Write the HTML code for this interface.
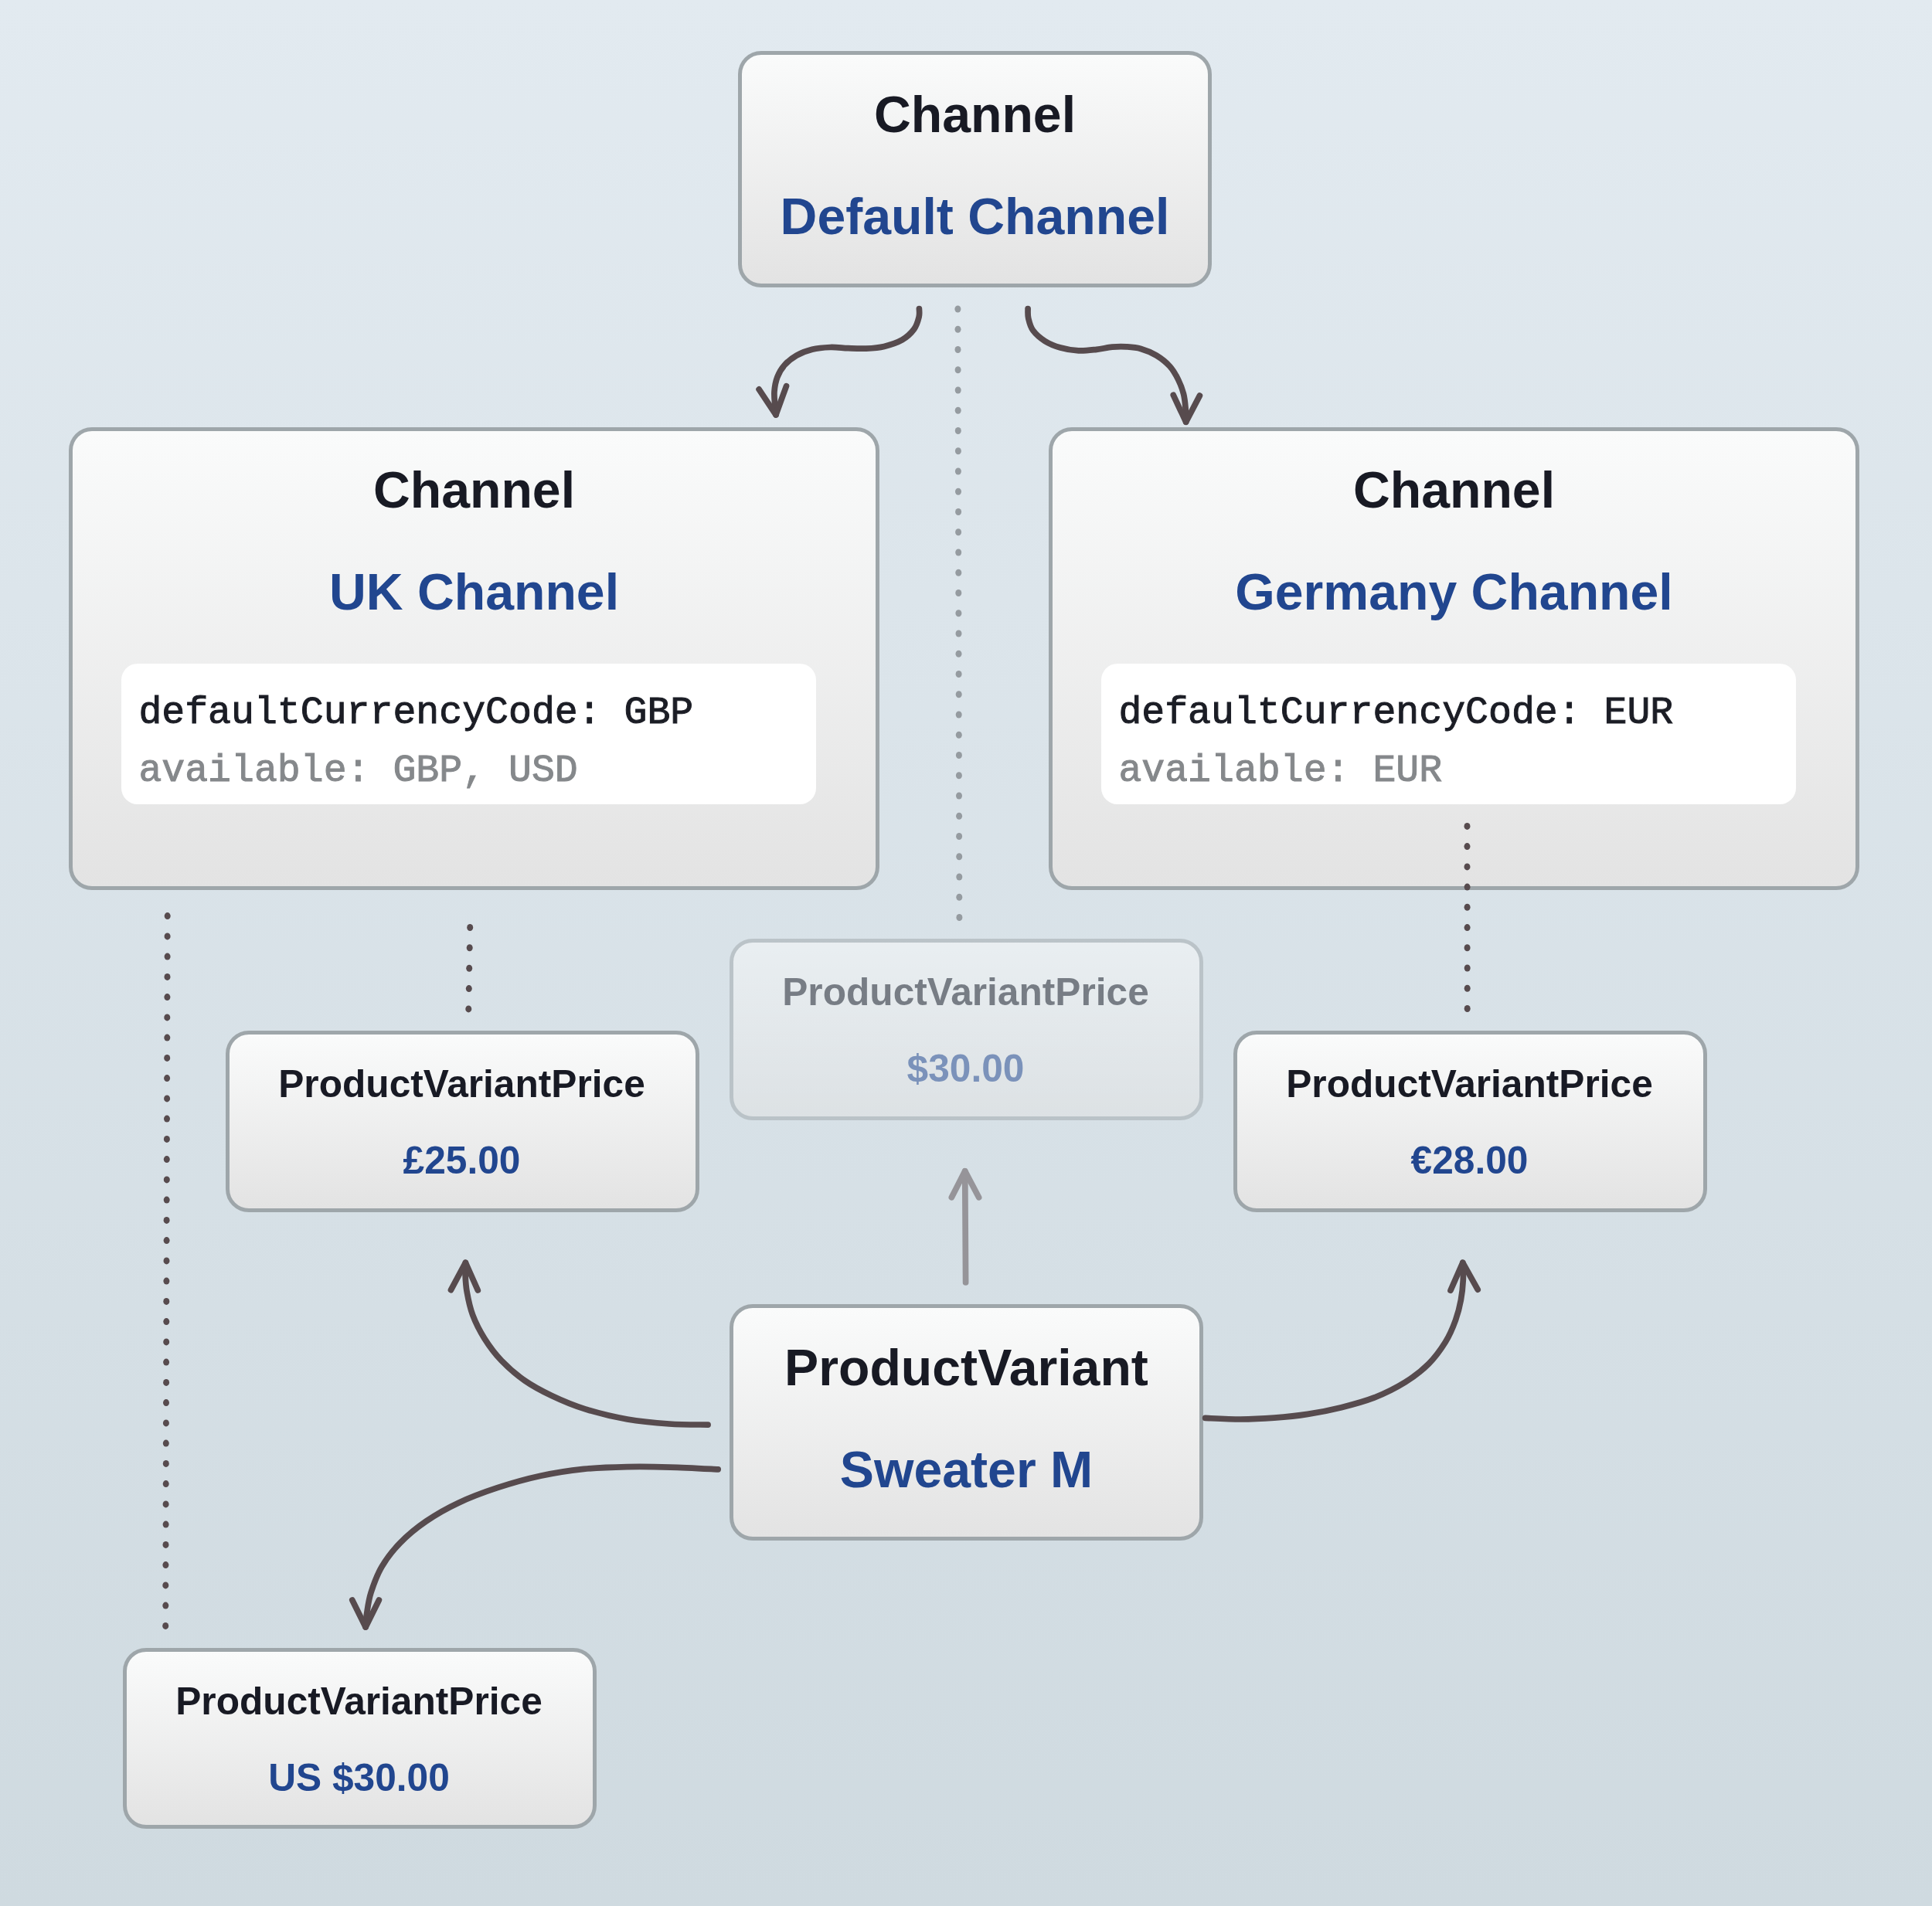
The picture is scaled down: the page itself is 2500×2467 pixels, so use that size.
<!DOCTYPE html>
<html lang="en">
<head>
<meta charset="utf-8">
<title>Channels, currencies and prices</title>
<style>

html,body{margin:0;padding:0;}
body{width:2500px;height:2467px;overflow:hidden;position:relative;
  background:linear-gradient(to bottom,#e2eaf0 0%,#cfdae0 100%);
  font-family:"Liberation Sans",sans-serif;}
.box{position:absolute;box-sizing:border-box;border:5px solid #9ea6aa;border-radius:30px;
  background:linear-gradient(to bottom,#fafbfb 0%,#e3e3e3 100%);}
.faded{opacity:.5;}
.t,.s{position:absolute;left:0;right:0;text-align:center;font-weight:bold;white-space:nowrap;line-height:1;}
.t{color:#181a24;}
.s{color:#21468f;}
.big .t,.big .s{font-size:66.2px;}
.small .t,.small .s{font-size:49.65px;left:-2px;}
.big .t{top:43.86px;}
.big .s{top:176.36px;}
.tall .t{top:42.86px;}
.tall .s{top:175.36px;}
.small .t{top:39.67px;}
.small .s{top:139.17px;}
.code{position:absolute;left:63px;top:300.5px;width:899px;height:182.5px;background:#fff;border-radius:21px;
  font-family:"Liberation Mono",monospace;font-size:49.85px;font-weight:normal;white-space:pre;-webkit-text-stroke:1px currentColor;}
.code div{position:absolute;left:22.40px;line-height:1;}
.code .l1{color:#1b1d25;top:39.68px;}
.code .l2{color:#85888b;top:114.68px;}
svg{position:absolute;left:0;top:0;}

</style>
</head>
<body>
<div class="box big" id="b-default" style="left:955px;top:66px;width:613px;height:306px">
  <div class="t">Channel</div>
  <div class="s">Default Channel</div>
</div>
<div class="box big tall" id="b-uk" style="left:89px;top:553px;width:1049px;height:599px">
  <div class="t">Channel</div>
  <div class="s">UK Channel</div>
  <div class="code"><div class="l1">defaultCurrencyCode: GBP</div><div class="l2">available: GBP, USD</div></div>
</div>
<div class="box big tall" id="b-de" style="left:1357px;top:553px;width:1049px;height:599px">
  <div class="t">Channel</div>
  <div class="s">Germany Channel</div>
  <div class="code"><div class="l1">defaultCurrencyCode: EUR</div><div class="l2">available: EUR</div></div>
</div>
<div class="box small" id="b-gbp" style="left:292px;top:1334px;width:613px;height:235px">
  <div class="t">ProductVariantPrice</div>
  <div class="s">£25.00</div>
</div>
<div class="box small faded" id="b-usd0" style="left:944px;top:1215px;width:613px;height:235px">
  <div class="t">ProductVariantPrice</div>
  <div class="s">$30.00</div>
</div>
<div class="box small" id="b-eur" style="left:1596px;top:1334px;width:613px;height:235px">
  <div class="t">ProductVariantPrice</div>
  <div class="s">€28.00</div>
</div>
<div class="box big" id="b-pv" style="left:944px;top:1688px;width:613px;height:306px">
  <div class="t">ProductVariant</div>
  <div class="s">Sweater M</div>
</div>
<div class="box small" id="b-usd" style="left:159px;top:2133px;width:613px;height:234px">
  <div class="t">ProductVariantPrice</div>
  <div class="s">US $30.00</div>
</div>
<svg width="2500" height="2467" viewBox="0 0 2500 2467">
<g fill="none" stroke="#574b4e" stroke-width="7.7" stroke-linecap="round" stroke-linejoin="round">
<path d="M1189.4,399.5 C1189.4,401.3 1190.2,406.0 1189.1,410.4 C1188.0,414.8 1186.5,421.0 1182.9,425.9 C1179.3,430.8 1173.9,436.1 1167.4,439.9 C1160.9,443.6 1151.9,446.5 1144.1,448.4 C1136.3,450.3 1128.6,450.7 1120.8,451.1 C1113.0,451.5 1105.3,451.0 1097.5,450.7 C1089.7,450.4 1082.0,449.2 1074.2,449.5 C1066.4,449.8 1058.2,450.5 1050.9,452.3 C1043.7,454.1 1036.7,456.7 1030.7,460.1 C1024.8,463.5 1019.3,467.9 1015.2,472.5 C1011.1,477.1 1008.1,482.3 1005.9,488.0 C1003.7,493.7 1002.5,500.4 1002.0,506.6 C1001.5,512.8 1002.5,520.2 1002.8,525.3 C1003.1,530.3 1003.8,535.0 1004.0,536.9"/>
<path d="M982.1,503.9 L1004.0,536.9 L1017.5,499.7"/>
<path d="M1330.1,399.5 C1330.2,401.6 1329.6,407.2 1330.7,411.9 C1331.8,416.6 1333.0,422.6 1336.6,427.5 C1340.2,432.4 1346.1,437.6 1352.1,441.4 C1358.0,445.1 1365.0,447.9 1372.3,450.0 C1379.5,452.1 1387.8,453.5 1395.6,453.9 C1403.4,454.3 1411.7,453.1 1418.9,452.3 C1426.2,451.5 1432.6,449.8 1439.1,449.2 C1445.6,448.6 1451.5,448.5 1457.7,448.9 C1463.9,449.3 1469.8,449.6 1476.3,451.5 C1482.8,453.4 1490.3,456.4 1496.5,460.1 C1502.7,463.9 1508.9,468.8 1513.6,474.0 C1518.3,479.2 1521.5,485.1 1524.5,491.1 C1527.5,497.1 1529.9,503.6 1531.5,509.8 C1533.1,516.0 1533.6,522.3 1534.1,528.4 C1534.6,534.5 1534.5,543.2 1534.6,546.2"/>
<path d="M1518.3,511.3 L1534.6,546.2 L1552.4,512.1"/>
<path d="M916.1,1844.1 C907.8,1843.9 883.5,1844.2 866.1,1843.0 C848.7,1841.8 829.8,1840.2 811.7,1837.0 C793.6,1833.8 773.7,1829.0 757.4,1823.9 C741.1,1818.8 726.9,1812.7 713.9,1806.5 C700.9,1800.3 690.0,1794.6 679.1,1787.0 C668.2,1779.4 657.4,1770.0 648.7,1760.9 C640.0,1751.8 633.2,1742.4 627.0,1732.6 C620.8,1722.8 615.5,1712.3 611.7,1702.2 C607.9,1692.1 605.7,1680.8 604.1,1671.7 C602.5,1662.6 602.3,1654.0 602.0,1647.8 C601.7,1641.6 602.3,1636.5 602.4,1634.3"/>
<path d="M583.5,1669.6 L602.4,1634.3 L618.3,1670.0"/>
<path d="M929.2,1901.9 C918.9,1901.4 886.9,1899.6 867.2,1899.1 C847.6,1898.5 829.9,1898.2 811.3,1898.6 C792.7,1899.0 774.0,1899.5 755.4,1901.4 C736.8,1903.4 718.1,1906.2 699.5,1910.3 C680.9,1914.3 661.3,1919.9 643.6,1925.7 C625.9,1931.5 608.7,1938.0 593.3,1945.2 C577.9,1952.4 564.0,1960.4 551.4,1969.0 C538.8,1977.6 527.3,1987.2 517.8,1997.0 C508.2,2006.8 500.4,2017.0 494.1,2027.7 C487.8,2038.4 483.4,2050.9 480.1,2061.2 C476.8,2071.4 475.7,2081.7 474.5,2089.2 C473.3,2096.7 473.3,2103.2 473.1,2106.0"/>
<path d="M455.8,2071.0 L473.1,2106.0 L490.4,2071.0"/>
<path d="M1559.6,1835.4 C1567.2,1835.7 1590.3,1837.0 1605.2,1837.0 C1620.1,1837.0 1634.2,1836.3 1648.7,1835.2 C1663.2,1834.1 1677.7,1832.7 1692.2,1830.4 C1706.7,1828.2 1721.2,1825.3 1735.7,1821.7 C1750.2,1818.1 1765.3,1814.1 1779.1,1808.7 C1792.9,1803.3 1806.7,1796.3 1818.3,1789.1 C1829.9,1781.8 1840.0,1773.9 1848.7,1765.2 C1857.4,1756.5 1864.6,1746.4 1870.4,1737.0 C1876.2,1727.6 1880.2,1717.8 1883.5,1708.7 C1886.8,1699.6 1888.8,1691.3 1890.4,1682.6 C1892.0,1673.9 1892.9,1664.5 1893.3,1656.5 C1893.7,1648.5 1892.9,1638.0 1892.8,1634.3"/>
<path d="M1877.0,1670.2 L1892.8,1634.3 L1912.2,1669.1"/>
</g>
<g fill="none" stroke="#574b4e" stroke-width="7.7" stroke-linecap="round" stroke-linejoin="round" opacity="0.5">
<path d="M1249.6,1660.0 L1248.7,1515.8"/>
<path d="M1231.4,1549.8 L1248.7,1515.8 L1266.6,1549.8"/>
</g>
<g fill="#574b4e">
<ellipse cx="216.7" cy="1185.6" rx="4" ry="4.5"/>
<ellipse cx="216.6" cy="1211.9" rx="4" ry="4.5"/>
<ellipse cx="216.6" cy="1238.1" rx="4" ry="4.5"/>
<ellipse cx="216.5" cy="1264.4" rx="4" ry="4.5"/>
<ellipse cx="216.4" cy="1290.6" rx="4" ry="4.5"/>
<ellipse cx="216.3" cy="1316.9" rx="4" ry="4.5"/>
<ellipse cx="216.3" cy="1343.1" rx="4" ry="4.5"/>
<ellipse cx="216.2" cy="1369.4" rx="4" ry="4.5"/>
<ellipse cx="216.1" cy="1395.6" rx="4" ry="4.5"/>
<ellipse cx="216.1" cy="1421.9" rx="4" ry="4.5"/>
<ellipse cx="216.0" cy="1448.1" rx="4" ry="4.5"/>
<ellipse cx="215.9" cy="1474.4" rx="4" ry="4.5"/>
<ellipse cx="215.8" cy="1500.6" rx="4" ry="4.5"/>
<ellipse cx="215.8" cy="1526.9" rx="4" ry="4.5"/>
<ellipse cx="215.7" cy="1553.1" rx="4" ry="4.5"/>
<ellipse cx="215.6" cy="1579.4" rx="4" ry="4.5"/>
<ellipse cx="215.6" cy="1605.6" rx="4" ry="4.5"/>
<ellipse cx="215.5" cy="1631.9" rx="4" ry="4.5"/>
<ellipse cx="215.4" cy="1658.1" rx="4" ry="4.5"/>
<ellipse cx="215.3" cy="1684.4" rx="4" ry="4.5"/>
<ellipse cx="215.3" cy="1710.6" rx="4" ry="4.5"/>
<ellipse cx="215.2" cy="1736.9" rx="4" ry="4.5"/>
<ellipse cx="215.1" cy="1763.1" rx="4" ry="4.5"/>
<ellipse cx="215.1" cy="1789.4" rx="4" ry="4.5"/>
<ellipse cx="215.0" cy="1815.6" rx="4" ry="4.5"/>
<ellipse cx="214.9" cy="1841.9" rx="4" ry="4.5"/>
<ellipse cx="214.8" cy="1868.1" rx="4" ry="4.5"/>
<ellipse cx="214.8" cy="1894.4" rx="4" ry="4.5"/>
<ellipse cx="214.7" cy="1920.6" rx="4" ry="4.5"/>
<ellipse cx="214.6" cy="1946.9" rx="4" ry="4.5"/>
<ellipse cx="214.6" cy="1973.1" rx="4" ry="4.5"/>
<ellipse cx="214.5" cy="1999.4" rx="4" ry="4.5"/>
<ellipse cx="214.4" cy="2025.6" rx="4" ry="4.5"/>
<ellipse cx="214.3" cy="2051.9" rx="4" ry="4.5"/>
<ellipse cx="214.3" cy="2078.1" rx="4" ry="4.5"/>
<ellipse cx="214.2" cy="2104.4" rx="4" ry="4.5"/>
</g>
<g fill="#574b4e">
<ellipse cx="608.2" cy="1200.5" rx="4" ry="4.5"/>
<ellipse cx="607.7" cy="1226.8" rx="4" ry="4.5"/>
<ellipse cx="607.2" cy="1253.2" rx="4" ry="4.5"/>
<ellipse cx="606.8" cy="1279.6" rx="4" ry="4.5"/>
<ellipse cx="606.3" cy="1305.9" rx="4" ry="4.5"/>
</g>
<g fill="#574b4e">
<ellipse cx="1898.5" cy="1069.4" rx="4" ry="4.5"/>
<ellipse cx="1898.5" cy="1095.6" rx="4" ry="4.5"/>
<ellipse cx="1898.5" cy="1121.9" rx="4" ry="4.5"/>
<ellipse cx="1898.6" cy="1148.1" rx="4" ry="4.5"/>
<ellipse cx="1898.6" cy="1174.3" rx="4" ry="4.5"/>
<ellipse cx="1898.6" cy="1200.6" rx="4" ry="4.5"/>
<ellipse cx="1898.6" cy="1226.8" rx="4" ry="4.5"/>
<ellipse cx="1898.7" cy="1253.0" rx="4" ry="4.5"/>
<ellipse cx="1898.7" cy="1279.3" rx="4" ry="4.5"/>
<ellipse cx="1898.7" cy="1305.5" rx="4" ry="4.5"/>
</g>
<g fill="#959ba0">
<ellipse cx="1239.4" cy="400.0" rx="4" ry="4.5"/>
<ellipse cx="1239.5" cy="426.2" rx="4" ry="4.5"/>
<ellipse cx="1239.5" cy="452.5" rx="4" ry="4.5"/>
<ellipse cx="1239.6" cy="478.8" rx="4" ry="4.5"/>
<ellipse cx="1239.7" cy="505.0" rx="4" ry="4.5"/>
<ellipse cx="1239.7" cy="531.2" rx="4" ry="4.5"/>
<ellipse cx="1239.8" cy="557.5" rx="4" ry="4.5"/>
<ellipse cx="1239.9" cy="583.8" rx="4" ry="4.5"/>
<ellipse cx="1239.9" cy="610.0" rx="4" ry="4.5"/>
<ellipse cx="1240.0" cy="636.2" rx="4" ry="4.5"/>
<ellipse cx="1240.1" cy="662.5" rx="4" ry="4.5"/>
<ellipse cx="1240.1" cy="688.8" rx="4" ry="4.5"/>
<ellipse cx="1240.2" cy="715.0" rx="4" ry="4.5"/>
<ellipse cx="1240.3" cy="741.2" rx="4" ry="4.5"/>
<ellipse cx="1240.3" cy="767.5" rx="4" ry="4.5"/>
<ellipse cx="1240.4" cy="793.8" rx="4" ry="4.5"/>
<ellipse cx="1240.5" cy="820.0" rx="4" ry="4.5"/>
<ellipse cx="1240.5" cy="846.2" rx="4" ry="4.5"/>
<ellipse cx="1240.6" cy="872.5" rx="4" ry="4.5"/>
<ellipse cx="1240.7" cy="898.8" rx="4" ry="4.5"/>
<ellipse cx="1240.7" cy="925.0" rx="4" ry="4.5"/>
<ellipse cx="1240.8" cy="951.2" rx="4" ry="4.5"/>
<ellipse cx="1240.9" cy="977.5" rx="4" ry="4.5"/>
<ellipse cx="1240.9" cy="1003.8" rx="4" ry="4.5"/>
<ellipse cx="1241.0" cy="1030.0" rx="4" ry="4.5"/>
<ellipse cx="1241.1" cy="1056.2" rx="4" ry="4.5"/>
<ellipse cx="1241.1" cy="1082.5" rx="4" ry="4.5"/>
<ellipse cx="1241.2" cy="1108.8" rx="4" ry="4.5"/>
<ellipse cx="1241.3" cy="1135.0" rx="4" ry="4.5"/>
<ellipse cx="1241.3" cy="1161.2" rx="4" ry="4.5"/>
<ellipse cx="1241.4" cy="1187.5" rx="4" ry="4.5"/>
</g>
</svg>
</body>
</html>
